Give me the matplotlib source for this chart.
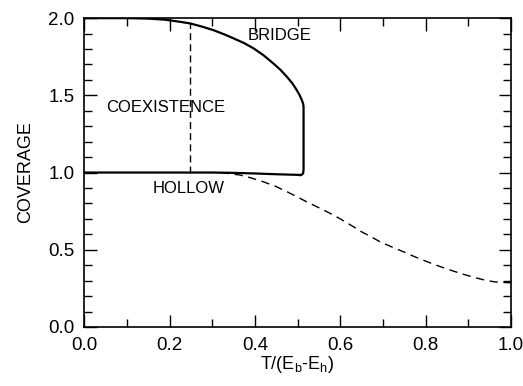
import matplotlib
matplotlib.use("Agg")
import matplotlib.pyplot as plt
import matplotlib.transforms as mtransforms
from matplotlib.ticker import MultipleLocator, FormatStrFormatter

plt.rcParams["font.family"] = ["Liberation Sans", "DejaVu Sans"]
plt.rcParams["mathtext.fontset"] = "custom"
plt.rcParams["mathtext.rm"] = "Liberation Sans"

# bridge branch (upper solid curve), running down the right side into the hollow branch
bridge_t = [0.0, 0.10, 0.15, 0.19, 0.225, 0.248, 0.275, 0.303, 0.33, 0.350, 0.375, 0.397, 0.42,
            0.443, 0.46, 0.475, 0.488, 0.498, 0.505, 0.510, 0.513, 0.514, 0.514, 0.513, 0.510, 0.506]
bridge_c = [2.0, 2.0, 1.997, 1.99, 1.976, 1.966, 1.946, 1.922, 1.893, 1.869, 1.838, 1.804, 1.760,
            1.707, 1.665, 1.620, 1.577, 1.534, 1.50, 1.469, 1.445, 1.426, 1.02, 0.995, 0.986, 0.984]

# hollow branch (lower solid curve)
hollow_t = [0.0, 0.20, 0.30, 0.35, 0.40, 0.45, 0.50, 0.506]
hollow_c = [1.0, 1.0, 1.0, 0.998, 0.994, 0.989, 0.985, 0.984]

# dashed continuation of the hollow coverage
dash_t = [0.32, 0.365, 0.39, 0.420, 0.45, 0.475, 0.50, 0.521, 0.55, 0.576, 0.60, 0.631, 0.646, 0.67,
          0.693, 0.72, 0.748, 0.775, 0.803, 0.83, 0.857, 0.885, 0.912, 0.935, 0.959, 0.975, 0.990, 1.0]
dash_c = [1.0, 0.984, 0.966, 0.940, 0.909, 0.876, 0.841, 0.811, 0.772, 0.736, 0.700, 0.649, 0.622, 0.587,
          0.552, 0.519, 0.487, 0.454, 0.423, 0.395, 0.369, 0.344, 0.322, 0.306, 0.293, 0.289, 0.287, 0.286]

# vertical dashed line at T = 0.25
vline_t = [0.248, 0.248]
vline_c = [1.0, 1.966]

fig = plt.figure(figsize=(5.23, 3.86), dpi=100)
ax = fig.add_axes([0.161, 0.153, 0.816, 0.80])

ax.plot(bridge_t, bridge_c, color="black", lw=1.6, solid_joinstyle="round")
ax.plot(hollow_t, hollow_c, color="black", lw=1.6)
ax.plot(dash_t, dash_c, color="black", lw=1.0, ls=(0, (6, 4)))
ax.plot(vline_t, vline_c, color="black", lw=1.0, ls=(0, (5, 3)))

ax.text(0.457, 1.89, "BRIDGE", fontsize=12, ha="center", va="center")
ax.text(0.192, 1.42, "COEXISTENCE", fontsize=12, ha="center", va="center")
ax.text(0.244, 0.896, "HOLLOW", fontsize=12, ha="center", va="center")

ax.set_xlim(0, 1.0)
ax.set_ylim(0, 2.0)
ax.xaxis.set_major_locator(MultipleLocator(0.2))
ax.xaxis.set_minor_locator(MultipleLocator(0.1))
ax.yaxis.set_major_locator(MultipleLocator(0.5))
ax.yaxis.set_minor_locator(MultipleLocator(0.1))
ax.xaxis.set_major_formatter(FormatStrFormatter("%.1f"))
ax.yaxis.set_major_formatter(FormatStrFormatter("%.1f"))

ax.tick_params(which="both", direction="in", top=True, right=True, labelsize=13.5, width=1.0)
ax.tick_params(which="major", length=9, pad=7)
ax.tick_params(which="minor", length=5.5)
for s in ax.spines.values():
    s.set_linewidth(1.2)

ax.set_xlabel(r"T/(E$_\mathregular{b}$-E$_\mathregular{h}$)", fontsize=13, labelpad=0)
ax.set_ylabel("COVERAGE", fontsize=13, labelpad=10)

# keep the last x tick label inside the figure
fig.canvas.draw()
last = ax.get_xticklabels()[-1]
last.set_transform(last.get_transform() + mtransforms.ScaledTranslation(-6 / 100, 0, fig.dpi_scale_trans))

fig.savefig("out.png", dpi=100)
